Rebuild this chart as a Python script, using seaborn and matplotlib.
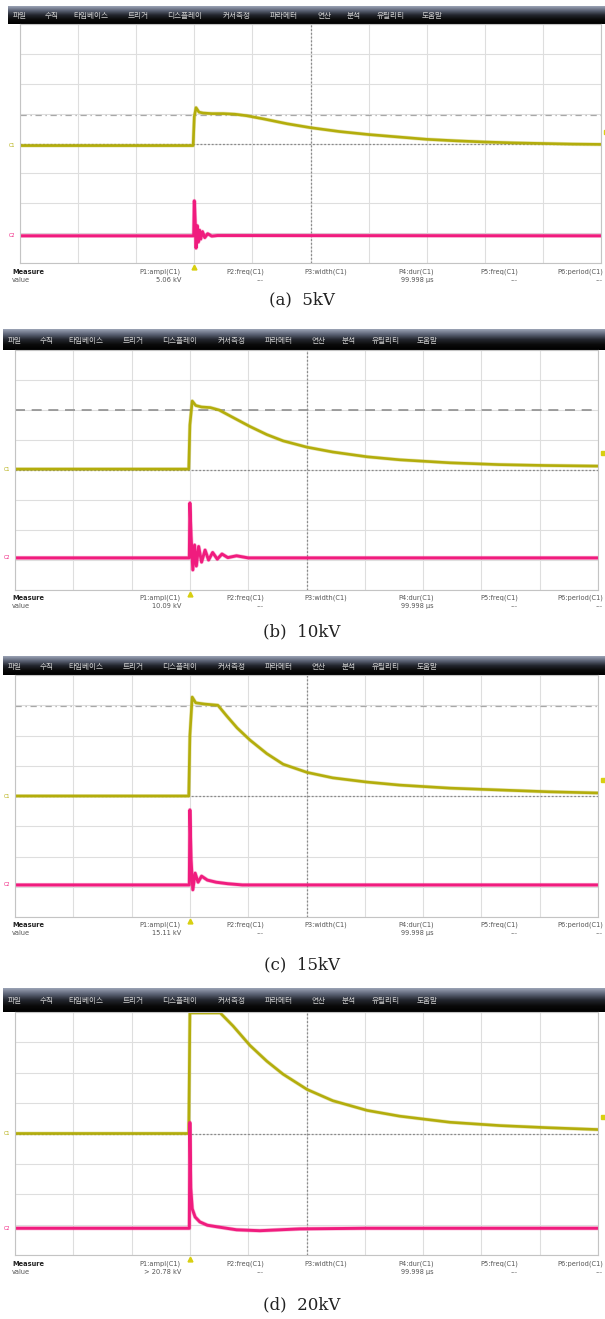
import matplotlib
matplotlib.use("Agg")
import matplotlib.pyplot as plt
import seaborn as sns
import numpy as np
from matplotlib.colors import LinearSegmentedColormap

# time in us (trigger at 0, 10 us/div), amplitude in screen divisions
t_a_c1 = [-30, -0.2, 0.0, 0.3, 0.8, 1.5, 3, 5, 7, 9, 12, 16, 20, 25, 30, 35, 40, 45, 50, 55, 60, 65, 70]
v_a_c1 = [-0.07, -0.07, 0.9, 1.2, 1.05, 1.02, 1.0, 1.0, 0.98, 0.93, 0.82, 0.66, 0.53, 0.4, 0.3, 0.22, 0.14, 0.09, 0.05, 0.02, 0.0, -0.02, -0.03]
t_a_c2 = [-30, -0.1, 0.0, 0.15, 0.3, 0.5, 0.7, 0.9, 1.1, 1.4, 1.8, 2.3, 3, 4, 70]
v_a_c2 = [-3.09, -3.09, -1.92, -2.6, -3.5, -2.75, -3.3, -2.9, -3.2, -2.95, -3.15, -3.02, -3.1, -3.08, -3.09]

t_b_c1 = [-30, -0.2, 0, 0.4, 1, 2, 3.5, 5, 7.4, 10.3, 13.2, 16, 20.1, 24.5, 30.4, 36, 44.6, 53, 61, 70]
v_b_c1 = [0.03, 0.03, 1.5, 2.3, 2.15, 2.1, 2.08, 2.0, 1.75, 1.45, 1.18, 0.97, 0.76, 0.6, 0.44, 0.34, 0.24, 0.18, 0.15, 0.13]
t_b_c2 = [-30, -0.1, 0, 0.2, 0.5, 0.8, 1.1, 1.5, 2.0, 2.6, 3.2, 3.9, 4.7, 5.5, 6.5, 8, 10, 70]
v_b_c2 = [-2.93, -2.93, -1.1, -2.2, -3.33, -2.5, -3.2, -2.55, -3.07, -2.67, -3.0, -2.75, -2.97, -2.8, -2.92, -2.86, -2.93, -2.93]

t_c_c1 = [-30, -0.2, 0, 0.4, 1, 2.5, 4.8, 6.3, 8.1, 10.3, 13.2, 16, 20.1, 24.5, 30.4, 36, 44.6, 53, 61.5, 70]
v_c_c1 = [0.0, 0.0, 2.0, 3.27, 3.08, 3.04, 3.0, 2.65, 2.25, 1.85, 1.4, 1.05, 0.78, 0.6, 0.46, 0.36, 0.26, 0.2, 0.14, 0.1]
t_c_c2 = [-30, -0.1, 0, 0.2, 0.5, 0.9, 1.4, 2, 3, 4.5, 6.5, 9, 70]
v_c_c2 = [-2.94, -2.94, -0.46, -2.1, -3.1, -2.55, -2.85, -2.65, -2.78, -2.85, -2.9, -2.94, -2.94]

t_d_c1 = [-30, -0.2, 0, 0.3, 2, 4, 5.2, 7.4, 10.3, 13.2, 16, 20.1, 24.5, 30.4, 36, 44.6, 53.2, 61.5, 70]
v_d_c1 = [0.0, 0.0, 3.97, 3.97, 3.97, 3.97, 3.97, 3.54, 2.9, 2.38, 1.95, 1.45, 1.08, 0.76, 0.57, 0.37, 0.26, 0.19, 0.13]
t_d_c2 = [-30, -0.1, 0, 0.15, 0.4, 0.9, 1.7, 3, 4.6, 8, 12, 18.9, 30, 70]
v_d_c2 = [-3.12, -3.12, 0.36, -1.8, -2.48, -2.75, -2.91, -3.02, -3.07, -3.17, -3.2, -3.14, -3.12, -3.12]

captions = ["(a)  5kV", "(b)  10kV", "(c)  15kV", "(d)  20kV"]
ampl_values = ["5.06 kV", "10.09 kV", "15.11 kV", "> 20.78 kV"]
cursor_levels = [0.94, 2.0, 2.97, None]
trig_levels = [0.37, 0.57, 0.53, 0.53]

menu_items = ["파일", "수직", "타임베이스", "트리거", "디스플레이", "커서측정", "파라메터", "연산", "분석", "유틸리티", "도움말"]
menu_offsets = [5, 37, 65, 120, 159, 215, 262, 309, 339, 369, 414]
measure_names = ["P1:ampl(C1)", "P2:freq(C1)", "P3:width(C1)", "P4:dur(C1)", "P5:freq(C1)", "P6:period(C1)"]
measure_right = [181, 264, 347, 434, 518, 603]

W, H = 605, 1319
YEL = "#b3ad0c"
PINK = "#f01c7e"

sns.set_theme(style="white")
plt.rcParams['font.family'] = ['DejaVu Sans', 'Noto Sans CJK KR']

fig = plt.figure(figsize=(W / 100, H / 100), dpi=100)
fig.patch.set_facecolor("white")


def rect(x0, y0, x1, y1):
    return [x0 / W, 1 - y1 / H, (x1 - x0) / W, (y1 - y0) / H]


def ftext(x, y, s, **kw):
    fig.text(x / W, 1 - y / H, s, **kw)


# panel geometry in pixels: bar x0, bar y0, plot x0, plot y0, plot x1, plot y1, measure y, caption y
panels = [
    (8, 6, 20, 24, 601, 263, 272, 300),
    (3, 329, 15, 350, 598, 590, 598, 632),
    (3, 656, 15, 675, 598, 917, 925, 965),
    (3, 988, 15, 1012, 598, 1255, 1264, 1305),
]
traces = [
    (t_a_c1, v_a_c1, t_a_c2, v_a_c2),
    (t_b_c1, v_b_c1, t_b_c2, v_b_c2),
    (t_c_c1, v_c_c1, t_c_c2, v_c_c2),
    (t_d_c1, v_d_c1, t_d_c2, v_d_c2),
]

bar_cmap = LinearSegmentedColormap.from_list(
    "bar", ["#9aa2b4", "#5b6274", "#23262e", "#0a0a0a", "#000000"])

for i, (bx, by, x0, y0, x1, y1, my, cy) in enumerate(panels):
    # menu bar
    bax = fig.add_axes(rect(bx, by, 605, y0))
    bax.imshow(np.linspace(0, 1, 50).reshape(-1, 1), aspect="auto", cmap=bar_cmap,
               extent=[0, 1, 0, 1])
    bax.set_axis_off()
    for name, off in zip(menu_items, menu_offsets):
        ftext(bx + off, (by + y0) / 2 + 1, name, fontsize=5.5, color="#cfcfcf",
              va="center", ha="left", family=['Noto Sans CJK KR', 'DejaVu Sans'])

    # scope screen
    ax = fig.add_axes(rect(x0, y0, x1, y1))
    ax.set_xlim(-30, 70)
    ax.set_ylim(-4, 4)
    ax.set_xticks(np.arange(-30, 71, 10))
    ax.set_yticks(np.arange(-4, 5, 1))
    ax.grid(True, color="#dedede", lw=0.8)
    ax.tick_params(length=0, labelbottom=False, labelleft=False)
    for s in ax.spines.values():
        s.set_color("#c4c4c4")
        s.set_linewidth(0.8)
    ax.axvline(20, color="#8a8a8a", lw=0.9, ls=(0, (1.5, 1.5)))
    ax.axhline(0, color="#8a8a8a", lw=0.9, ls=(0, (1.5, 1.5)))

    lvl = cursor_levels[i]
    if lvl is not None:
        if i == 1:
            ax.axhline(lvl, color="#8f8f8f", lw=1.2, ls=(0, (6, 4)))
        else:
            ax.axhline(lvl, color="#a8a8a8", lw=0.9, ls=(0, (5, 3, 1, 3)))

    t1, v1, t2, v2 = traces[i]
    for t, v, c, lw in [(t1, v1, YEL, 1.9), (t2, v2, PINK, 2.1)]:
        sns.lineplot(x=t, y=v, ax=ax, color=c, linewidth=lw + 0.9, alpha=0.3,
                     estimator=None, sort=False, legend=False)
        sns.lineplot(x=t, y=v, ax=ax, color=c, linewidth=lw,
                     estimator=None, sort=False, legend=False)

    # channel tags and markers
    ax.text(-0.008, v1[0], "C1", transform=ax.get_yaxis_transform(), fontsize=3.5,
            color=YEL, ha="right", va="center")
    ax.text(-0.008, v2[0], "C2", transform=ax.get_yaxis_transform(), fontsize=3.5,
            color=PINK, ha="right", va="center")
    ax.plot([1.008], [trig_levels[i]], marker="s", ms=2.5, color="#d8cf10",
            transform=ax.get_yaxis_transform(), clip_on=False)
    ax.plot([0], [-0.015], marker="^", ms=3.5, color="#d8cf10",
            transform=ax.get_xaxis_transform(), clip_on=False)

    # measure rows
    ftext(12, my, "Measure", fontsize=4.8, color="#222222", weight="bold", va="center")
    ftext(12, my + 8, "value", fontsize=4.8, color="#555555", va="center")
    for name, xr in zip(measure_names, measure_right):
        ftext(xr, my, name, fontsize=4.8, color="#555555", ha="right", va="center")
    ftext(measure_right[0], my + 8, ampl_values[i], fontsize=4.8, color="#555555",
          ha="right", va="center")
    ftext(measure_right[3], my + 8, "99.998 µs", fontsize=4.8, color="#555555",
          ha="right", va="center")
    for k in (1, 4, 5):
        ftext(measure_right[k], my + 8, "---", fontsize=4.8, color="#777777",
              ha="right", va="center")

    ftext(302, cy, captions[i], fontsize=12, color="#222222", ha="center",
          va="center", family="DejaVu Serif")

fig.savefig("out.png", dpi=100, facecolor="white")
